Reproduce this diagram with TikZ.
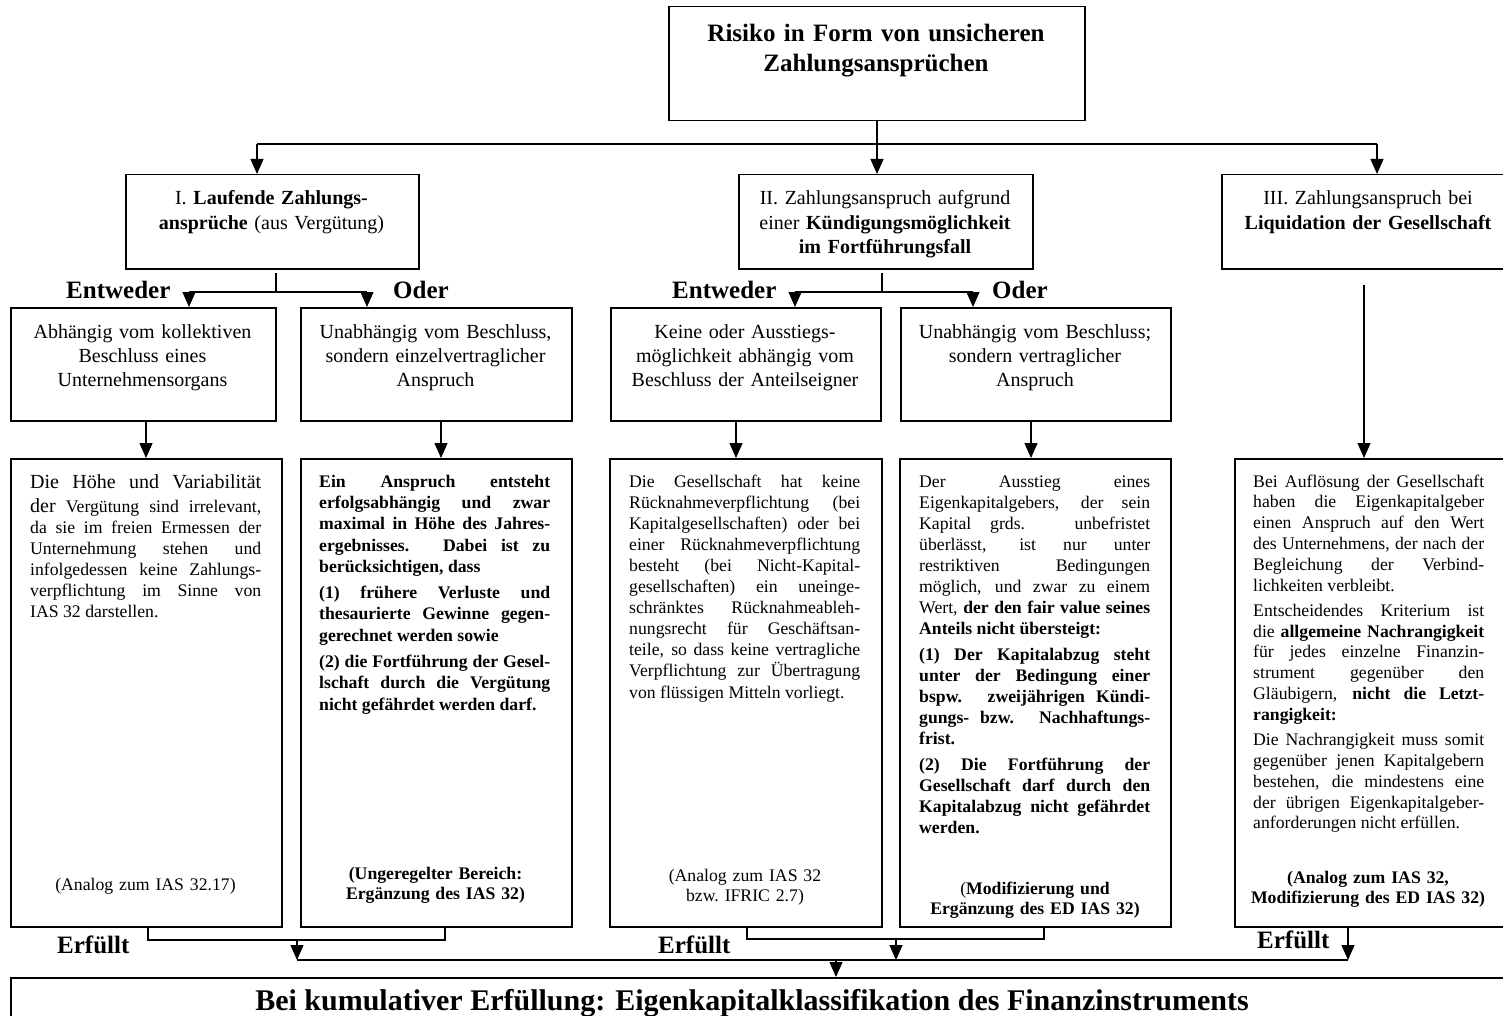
\documentclass[tikz,border=0pt]{standalone}
\usepackage{fontspec}
\setmainfont{Liberation Serif}
\usetikzlibrary{arrows.meta}
\hbadness=10000
\newlength{\colw}
\setlength{\colw}{231pt}
\newcommand{\jl}[1]{\hbox to\colw{\spaceskip=0pt\xspaceskip=0pt\relax #1}}
\newcommand{\jend}[1]{\hbox to\colw{\spaceskip=0pt\xspaceskip=0pt\relax #1\hfil}}
\newcommand{\pgap}{\vskip4.5pt}
\tikzset{
  box/.style={draw, line width=1.5pt, inner sep=0pt, anchor=north west},
  head/.style={inner sep=0pt, anchor=base, align=center, font=\fontsize{20}{24.4}\selectfont},
  body/.style={inner sep=0pt, anchor=base west, text width=231pt, font=\fontsize{17.7}{21.1}\selectfont},
  note/.style={inner sep=0pt, anchor=base, align=center, text width=262pt, font=\fontsize{17.7}{20.8}\selectfont},
  tag/.style={inner sep=0pt, anchor=base west, font=\fontsize{25}{30}\selectfont\bfseries},
  link/.style={line width=1.2pt},
  bus/.style={line width=2.4pt},
}
\begin{document}
\begin{tikzpicture}[x=1pt, y=-1pt, >={Triangle[length=15pt,width=13pt]}]
    \useasboundingbox (0,0) rectangle (1503,1016);

    % boxes
    \node[box, minimum width=416pt, minimum height=114pt] (top) at (668,6) {};
    \node[box, minimum width=293pt, minimum height=94pt] (I) at (125,174) {};
    \node[box, minimum width=294pt, minimum height=94pt] (II) at (738,174) {};
    \node[box, minimum width=290pt, minimum height=94pt] (III) at (1221,174) {};
    \node[box, minimum width=265pt, minimum height=113pt] (A) at (10,307) {};
    \node[box, minimum width=271pt, minimum height=113pt] (B) at (300,307) {};
    \node[box, minimum width=270pt, minimum height=113pt] (C) at (610,307) {};
    \node[box, minimum width=270pt, minimum height=113pt] (D) at (900,307) {};
    \node[box, minimum width=271pt, minimum height=468pt] (A3) at (10,458) {};
    \node[box, minimum width=271pt, minimum height=468pt] (B3) at (300,458) {};
    \node[box, minimum width=272pt, minimum height=468pt] (C3) at (609,458) {};
    \node[box, minimum width=271pt, minimum height=468pt] (D3) at (899,458) {};
    \node[box, minimum width=280pt, minimum height=468pt] (E3) at (1234,458) {};
    \node[box, minimum width=1500pt, minimum height=60pt] (F) at (10,977) {};

    % texts of the upper boxes
    \node[head, text width=400pt, font=\fontsize{25}{30}\selectfont\bfseries] (toptext) at (876,42)
        {Risiko in Form von unsicheren\\Zahlungsansprüchen};
    \node[head, text width=280pt] (Itext) at (271.5,205)
        {I. \textbf{Laufende Zahlungs-}\\\textbf{ansprüche} (aus Vergütung)};
    \node[head, text width=280pt] (IItext) at (885,205)
        {II. Zahlungsanspruch aufgrund\\einer \textbf{Kündigungsmöglichkeit}\\\textbf{im Fortführungsfall}};
    \node[head, text width=280pt] (IIItext) at (1368,205)
        {III. Zahlungsanspruch bei\\\textbf{Liquidation der Gesellschaft}};
    \node[head, text width=260pt] (Atext) at (142.5,338)
        {Abhängig vom kollektiven\\Beschluss eines\\Unternehmensorgans};
    \node[head, text width=260pt] (Btext) at (435.5,338)
        {Unabhängig vom Beschluss,\\sondern einzelvertraglicher\\Anspruch};
    \node[head, text width=260pt] (Ctext) at (745,338)
        {Keine oder Ausstiegs-\\möglichkeit abhängig vom\\Beschluss der Anteilseigner};
    \node[head, text width=260pt] (Dtext) at (1035,338)
        {Unabhängig vom Beschluss;\\sondern vertraglicher\\Anspruch};

    \node[tag] (ent1) at (66,298) {Entweder};
    \node[tag] (oder1) at (393,298) {Oder};
    \node[tag] (ent2) at (672,298) {Entweder};
    \node[tag] (oder2) at (992,298) {Oder};

    % texts of the lower boxes
    \node[body] (A3text) at (30,488) {%
        \jl{\fontsize{20}{25}\selectfont Die Höhe und Variabilität}\vskip3pt
        \jl{{\fontsize{20}{25}\selectfont der} Vergütung sind irrelevant,}
        \jl{da sie im freien Ermessen der}
        \jl{Unternehmung stehen und}
        \jl{infolgedessen keine Zahlungs-}
        \jl{verpflichtung im Sinne von}
        \jend{IAS 32 darstellen.}};
    \node[body, font=\fontsize{17.7}{21.4}\selectfont\bfseries] (B3text) at (319,487) {%
        \jl{Ein Anspruch entsteht}
        \jl{erfolgsabhängig und zwar}
        \jl{maximal in Höhe des Jahres-}
        \jl{ergebnisses. Dabei ist zu}
        \jend{berücksichtigen, dass}\pgap
        \jl{(1) frühere Verluste und}
        \jl{thesaurierte Gewinne gegen-}
        \jend{gerechnet werden sowie}\pgap
        \jl{(2) die Fortführung der Gesel-}
        \jl{lschaft durch die Vergütung}
        \jend{nicht gefährdet werden darf.}};
    \node[body] (C3text) at (629,487) {%
        \jl{Die Gesellschaft hat keine}
        \jl{Rücknahmeverpflichtung (bei}
        \jl{Kapitalgesellschaften) oder bei}
        \jl{einer Rücknahmeverpflichtung}
        \jl{besteht (bei Nicht-Kapital-}
        \jl{gesellschaften) ein uneinge-}
        \jl{schränktes Rücknahmeableh-}
        \jl{nungsrecht für Geschäftsan-}
        \jl{teile, so dass keine vertragliche}
        \jl{Verpflichtung zur Übertragung}
        \jend{von flüssigen Mitteln vorliegt.}};
    \node[body] (D3text) at (919,487) {%
        \jl{Der Ausstieg eines}
        \jl{Eigenkapitalgebers, der sein}
        \jl{Kapital grds. unbefristet}
        \jl{überlässt, ist nur unter}
        \jl{restriktiven Bedingungen}
        \jl{möglich, und zwar zu einem}
        \jl{Wert, \textbf{der den fair value seines}}
        \jend{\textbf{Anteils nicht übersteigt:}}\pgap
        \bfseries
        \jl{(1) Der Kapitalabzug steht}
        \jl{unter der Bedingung einer}
        \jl{bspw. zweijährigen Kündi-}
        \jl{gungs- bzw. Nachhaftungs-}
        \jend{frist.}\pgap
        \jl{(2) Die Fortführung der}
        \jl{Gesellschaft darf durch den}
        \jl{Kapitalabzug nicht gefährdet}
        \jend{werden.}};
    \node[body, font=\fontsize{17.7}{20.8}\selectfont] (E3text) at (1253,487) {%
        \jl{Bei Auflösung der Gesellschaft}
        \jl{haben die Eigenkapitalgeber}
        \jl{einen Anspruch auf den Wert}
        \jl{des Unternehmens, der nach der}
        \jl{Begleichung der Verbind-}
        \jend{lichkeiten verbleibt.}\pgap
        \jl{Entscheidendes Kriterium ist}
        \jl{die \textbf{allgemeine Nachrangigkeit}}
        \jl{für jedes einzelne Finanzin-}
        \jl{strument gegenüber den}
        \jl{Gläubigern, \textbf{nicht die Letzt-}}
        \jend{\textbf{rangigkeit:}}\pgap
        \jl{Die Nachrangigkeit muss somit}
        \jl{gegenüber jenen Kapitalgebern}
        \jl{bestehen, die mindestens eine}
        \jl{der übrigen Eigenkapitalgeber-}
        \jend{anforderungen nicht erfüllen.}};

    % notes at the foot of the lower boxes
    \node[note] (A3note) at (145.5,890) {(Analog zum IAS 32.17)};
    \node[note, font=\fontsize{17.7}{20.8}\selectfont\bfseries] (B3note) at (435.5,879)
        {(Ungeregelter Bereich:\\Ergänzung des IAS 32)};
    \node[note] (C3note) at (745,881) {(Analog zum IAS 32\\bzw.\ IFRIC 2.7)};
    \node[note] (D3note) at (1035,894)
        {(\textbf{Modifizierung und}\\\textbf{Ergänzung des ED IAS 32)}};
    \node[note, font=\fontsize{17.7}{20.8}\selectfont\bfseries] (E3note) at (1368,883)
        {(Analog zum IAS 32,\\Modifizierung des ED IAS 32)};

    \node[tag] (erf1) at (57,953) {Erfüllt};
    \node[tag] (erf2) at (658,953) {Erfüllt};
    \node[tag] (erf3) at (1257,948) {Erfüllt};

    \node[inner sep=0pt, anchor=base, font=\fontsize{30}{36}\selectfont\bfseries] (Ftext) at (752,1010)
        {Bei kumulativer Erfüllung: Eigenkapitalklassifikation des Finanzinstruments};

    % top level connectors
    \coordinate (tj) at (877,144);
    \coordinate (b1) at (257,144);
    \coordinate (b3) at (1377,144);
    \draw[link] (top.south -| tj) -- (tj);
    \draw[bus] (b1) -- (b3);
    \draw[link,->] (b1) -- (b1 |- I.north);
    \draw[link,->] (tj) -- (tj |- II.north);
    \draw[link,->] (b3) -- (b3 |- III.north);

    % either / or
    \coordinate (Is) at (276,273);
    \coordinate (Ij) at (276,292);
    \coordinate (Ia) at (189,292);
    \coordinate (Ib) at (367,292);
    \draw[link] (Is) -- (Ij);
    \draw[bus] (Ia) -- (Ib);
    \draw[link,->] (Ia) -- (Ia |- A.north);
    \draw[link,->] (Ib) -- (Ib |- B.north);

    \coordinate (IIs) at (882,273);
    \coordinate (IIj) at (882,292);
    \coordinate (IIa) at (795,292);
    \coordinate (IIb) at (973,292);
    \draw[link] (IIs) -- (IIj);
    \draw[bus] (IIa) -- (IIb);
    \draw[link,->] (IIa) -- (IIa |- C.north);
    \draw[link,->] (IIb) -- (IIb |- D.north);

    % second row to third row
    \coordinate (Ad) at (146,440);
    \coordinate (Bd) at (441,440);
    \coordinate (Cd) at (736,440);
    \coordinate (Dd) at (1031,440);
    \draw[link,->] (Ad |- A.south) -- (Ad |- A3.north);
    \draw[link,->] (Bd |- B.south) -- (Bd |- B3.north);
    \draw[link,->] (Cd |- C.south) -- (Cd |- C3.north);
    \draw[link,->] (Dd |- D.south) -- (Dd |- D3.north);
    \coordinate (IIIs) at (1364,285);
    \draw[link,->] (IIIs) -- (IIIs |- E3.north);

    % fulfilled
    \coordinate (Aj) at (148,940);
    \coordinate (Bj) at (445,940);
    \coordinate (ABj) at (297,940);
    \coordinate (ABb) at (297,960);
    \draw[link] (A3.south -| Aj) -- (Aj) -- (Bj) -- (B3.south -| Bj);
    \draw[link,->] (ABj) -- (ABb);
    \coordinate (Cj) at (747,939);
    \coordinate (Dj) at (1044,939);
    \coordinate (CDj) at (896,939);
    \coordinate (CDb) at (896,960);
    \draw[link] (C3.south -| Cj) -- (Cj) -- (Dj) -- (D3.south -| Dj);
    \draw[link,->] (CDj) -- (CDb);
    \coordinate (Eb) at (1348,960);
    \draw[link,->] (E3.south -| Eb) -- (Eb);
    \draw[link, line width=2pt] (ABb) -- (Eb);
    \coordinate (Fj) at (836,960);
    \draw[link,->] (Fj) -- (Fj |- F.north);
\end{tikzpicture}
\end{document}
